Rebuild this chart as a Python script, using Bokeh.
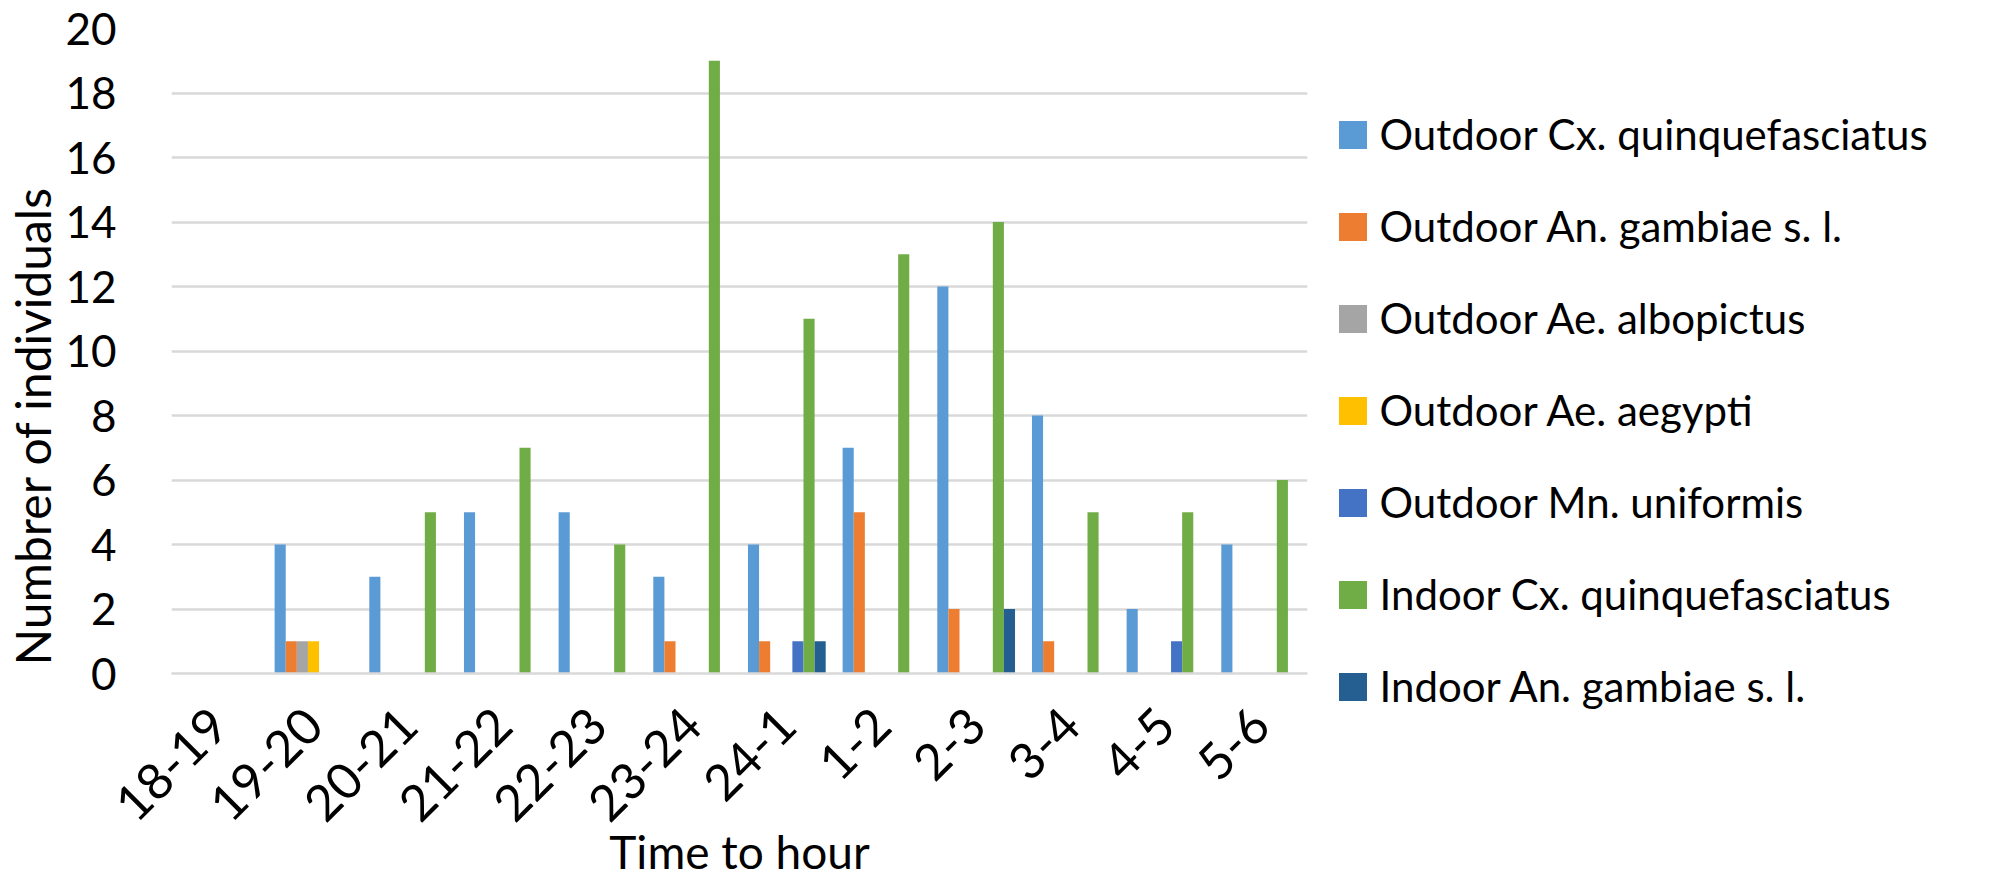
import math
from bokeh.plotting import figure
from bokeh.models import (ColumnDataSource, Range1d, FactorRange, Legend, LegendItem,
                          Title, SingleIntervalTicker)
from bokeh.transform import dodge
from bokeh.embed import file_html
from bokeh.resources import INLINE

# ---------------- data ----------------
hours = ["18-19", "19-20", "20-21", "21-22", "22-23", "23-24",
         "24-1", "1-2", "2-3", "3-4", "4-5", "5-6"]
outdoor_cx = [0, 4, 3, 5, 5, 3, 4, 7, 12, 8, 2, 4]
outdoor_an = [0, 1, 0, 0, 0, 1, 1, 5, 2, 1, 0, 0]
outdoor_albo = [0, 1, 0, 0, 0, 0, 0, 0, 0, 0, 0, 0]
outdoor_aeg = [0, 1, 0, 0, 0, 0, 0, 0, 0, 0, 0, 0]
outdoor_mn = [0, 0, 0, 0, 0, 0, 1, 0, 0, 0, 1, 0]
indoor_cx = [0, 0, 5, 7, 4, 19, 11, 13, 14, 5, 5, 6]
indoor_an = [0, 0, 0, 0, 0, 0, 1, 0, 2, 0, 0, 0]

series_names = ["Outdoor Cx. quinquefasciatus", "Outdoor An. gambiae s. l.",
                "Outdoor Ae. albopictus", "Outdoor Ae. aegypti",
                "Outdoor Mn. uniformis", "Indoor Cx. quinquefasciatus",
                "Indoor An. gambiae s. l."]
series_keys = ["outdoor_cx", "outdoor_an", "outdoor_albo", "outdoor_aeg",
               "outdoor_mn", "indoor_cx", "indoor_an"]
colors = ["#5B9BD5", "#ED7D31", "#A5A5A5", "#FFC000", "#4472C4", "#70AD47", "#255E91"]
y_ticks_interval = 2

source = ColumnDataSource(dict(
    hours=hours, outdoor_cx=outdoor_cx, outdoor_an=outdoor_an,
    outdoor_albo=outdoor_albo, outdoor_aeg=outdoor_aeg, outdoor_mn=outdoor_mn,
    indoor_cx=indoor_cx, indoor_an=indoor_an))

FONT = "Lato"
TXT = "#000000"

p = figure(x_range=FactorRange(*hours), y_range=Range1d(0, 20),
           frame_width=1136, frame_height=645,
           min_border_left=171, min_border_right=685, min_border_top=28,
           min_border_bottom=205,
           output_backend="svg", toolbar_location=None)

bar_w = 0.1173
renderers = []
for i, (key, col) in enumerate(zip(series_keys, colors)):
    r = p.vbar(x=dodge("hours", (i - 3) * bar_w, range=p.x_range), top=key,
               width=bar_w, bottom=0, source=source,
               fill_color=col, line_color=None)
    renderers.append(r)

legend = Legend(items=[LegendItem(label=n, renderers=[r])
                       for n, r in zip(series_names, renderers)],
                location=(27.5, -41))
legend.label_text_font = FONT
legend.label_text_font_size = "42px"
legend.label_text_color = TXT
legend.glyph_width = 35
legend.glyph_height = 35
legend.label_height = 56
legend.spacing = 36
legend.label_standoff = 10
legend.padding = 0
legend.margin = 0
legend.border_line_color = None
legend.background_fill_alpha = 0
p.add_layout(legend, "right")

# axes
p.yaxis.ticker = SingleIntervalTicker(interval=y_ticks_interval)
p.yaxis.axis_line_color = None
p.yaxis.major_tick_line_color = None
p.yaxis.minor_tick_line_color = None
p.yaxis.major_tick_out = 0
p.yaxis.major_label_standoff = 51
p.yaxis.major_label_text_font = FONT
p.yaxis.major_label_text_font_size = "44px"
p.yaxis.major_label_text_color = TXT

ytitle = Title(text="Numbrer of individuals", align="left", offset=8,
               vertical_align="top", standoff=0,
               text_font=FONT, text_font_size="48px", text_font_style="normal",
               text_color=TXT)
p.add_layout(ytitle, "left")

p.xaxis.axis_line_color = "#D9D9D9"
p.xaxis.axis_line_width = 2.5
p.xaxis.major_tick_line_color = None
p.xaxis.minor_tick_line_color = None
p.xaxis.major_tick_out = 0
p.xaxis.major_label_orientation = math.pi / 4
p.xaxis.major_label_standoff = 43
p.xaxis.major_label_text_font = FONT
p.xaxis.major_label_text_font_size = "50px"
p.xaxis.major_label_text_color = TXT
p.xaxis.axis_label = "Time to hour"
p.xaxis.axis_label_text_font = FONT
p.xaxis.axis_label_text_font_size = "46px"
p.xaxis.axis_label_text_font_style = "normal"
p.xaxis.axis_label_text_color = TXT
p.xaxis.axis_label_standoff = -16

p.xgrid.visible = False
p.ygrid.grid_line_color = "#D9D9D9"
p.ygrid.grid_line_width = 2.5
p.outline_line_color = None
p.background_fill_color = "white"
p.border_fill_color = "white"

open("out.html", "w").write(file_html(p, INLINE))
